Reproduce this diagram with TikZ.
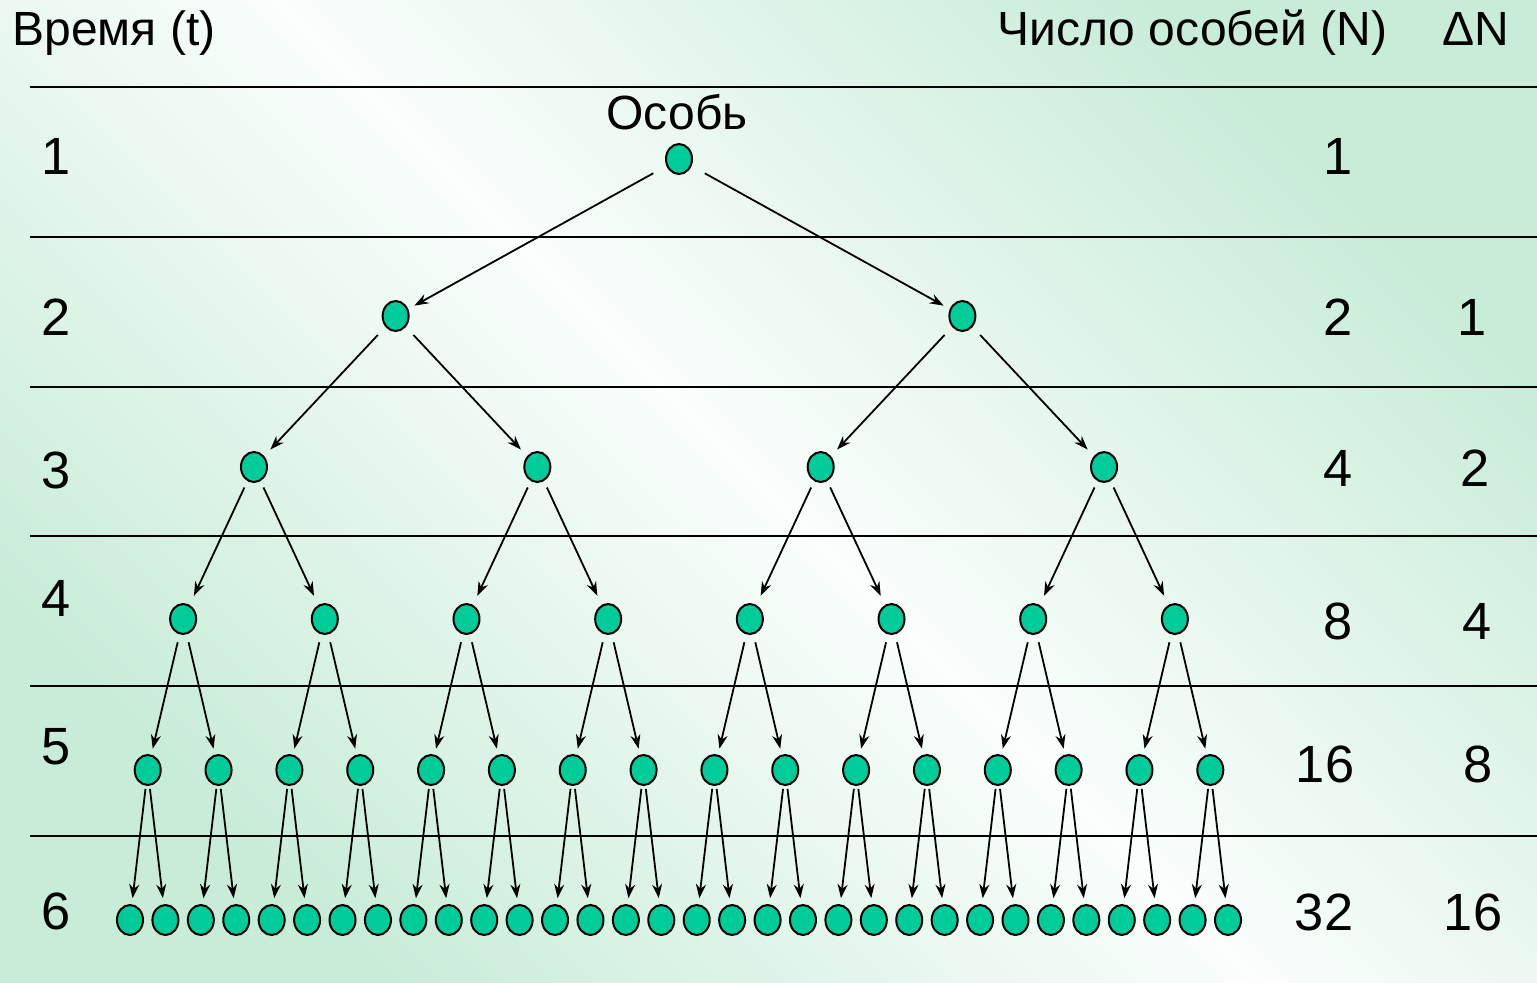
\documentclass[tikz,border=0pt]{standalone}
\usepackage{fontspec}
\setmainfont{Liberation Sans}
\usetikzlibrary{arrows.meta,shapes.geometric}
\definecolor{bggreen}{RGB}{200,236,216}
\definecolor{bgwhite}{RGB}{250,254,252}
\definecolor{indfill}{RGB}{0,204,153}
\tikzset{
  ind/.style={ellipse, draw=black, line width=1pt, fill=indfill, minimum width=13pt, minimum height=15pt, inner sep=0pt},
  arr/.style={-{Stealth[length=7pt,width=5pt]}, line width=0.9pt, black},
  rule/.style={line width=1pt, black},
  hdr/.style={font=\fontsize{24pt}{28pt}\selectfont, inner sep=0pt, anchor=base west},
  num/.style={font=\fontsize{26.2pt}{30pt}\selectfont, inner sep=0pt, anchor=base},
}
\begin{document}
\begin{tikzpicture}[x=0.5pt,y=-0.5pt]
\useasboundingbox (0,0) rectangle (1537,982);
\shade[top color=bggreen, bottom color=bggreen, middle color=bgwhite, shading angle=-45] (0,0) rectangle (1537,982);
% horizontal rules
\foreach \yy [count=\i] in {87,237,387,536,686,836}{
  \coordinate (rl\i) at (30,\yy);
  \coordinate (rr\i) at (1537,\yy);
  \draw[rule] (rl\i) -- (rr\i);
}
% headers
\node[hdr] (ht) at (12,45) {Время (t)};
\node[hdr] (hn) at (997,45) {Число особей (N)};
\node[hdr] (hd) at (1442,45) {ΔN};
\node[font=\fontsize{24pt}{28pt}\selectfont, inner sep=0pt, anchor=base] (lab) at (677,129) {Особь};
% time labels
\foreach \t/\yy in {1/174,2/335,3/488,4/616,5/764,6/929}{
  \node[num] (t\t) at (56,\yy) {\t};
}
% N column
\foreach \v/\xx/\yy [count=\i] in {1/1338/174,2/1338/335,4/1338/486,8/1338/639,16/1325/782,32/1324/930}{
  \node[num] (nn\i) at (\xx,\yy) {\v};
}
% Delta N column
\foreach \v/\xx/\yy [count=\i] in {1/1472/335,2/1475/486,4/1477/639,8/1478/782,16/1473/930}{
  \node[num] (dn\i) at (\xx,\yy) {\v};
}
% individuals
\foreach \L/\s/\yy in {1/32/159,2/16/316,3/8/467,4/4/619,5/2/770,6/1/920}{
  \pgfmathtruncatemacro\m{2^(\L-1)-1}
  \foreach \k in {0,...,\m}{
    \node[ind] (n\L-\k) at ({130+35.42*(\s*\k+(\s-1)/2)}, \yy) {};
  }
}
% arrows
\foreach \L/\a/\b in {1/7.5/3.5,2/5.5/4.5,3/3.5/5,4/4/3,5/1.5/3}{
  \pgfmathtruncatemacro\m{2^(\L-1)-1}
  \pgfmathtruncatemacro\Lc{\L+1}
  \foreach \k in {0,...,\m}{
    \pgfmathtruncatemacro\ca{2*\k}
    \pgfmathtruncatemacro\cb{2*\k+1}
    \draw[arr, shorten <=\a pt, shorten >=\b pt] (n\L-\k) -- (n\Lc-\ca);
    \draw[arr, shorten <=\a pt, shorten >=\b pt] (n\L-\k) -- (n\Lc-\cb);
  }
}
\end{tikzpicture}
\end{document}
